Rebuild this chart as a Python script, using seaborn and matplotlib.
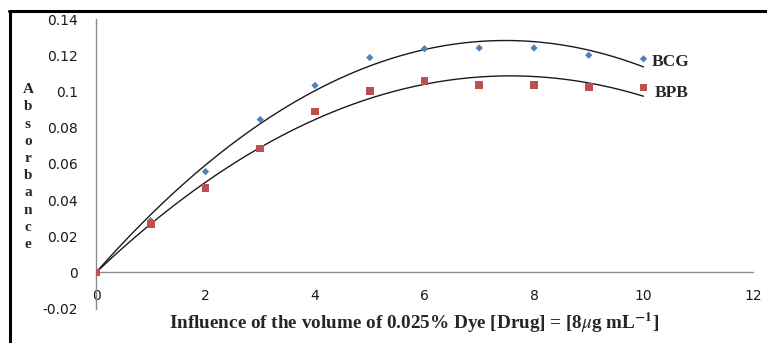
import numpy as np
import pandas as pd
import matplotlib
matplotlib.use("Agg")
import matplotlib.pyplot as plt
import seaborn as sns
from matplotlib.lines import Line2D

volume = [0, 1, 2, 3, 4, 5, 6, 7, 8, 9, 10]
bcg = [0.0, 0.0286, 0.0557, 0.0845, 0.1033, 0.1187, 0.1236, 0.1240, 0.1240, 0.1200, 0.1180]
bpb = [0.0, 0.0268, 0.0465, 0.0685, 0.0889, 0.1004, 0.1057, 0.1035, 0.1035, 0.1024, 0.1022]
series_names = ["BCG", "BPB"]
x_ticks = [0, 2, 4, 6, 8, 10, 12]
y_ticks = [-0.02, 0, 0.02, 0.04, 0.06, 0.08, 0.1, 0.12, 0.14]
y_tick_labels = ["-0.02", "0", "0.02", "0.04", "0.06", "0.08", "0.1", "0.12", "0.14"]

sns.set_theme(style="white")
plt.rcParams['font.family'] = ['DejaVu Sans']
plt.rcParams['mathtext.fontset'] = 'stix'

df = pd.DataFrame({"volume": volume * 2,
                   "absorbance": bcg + bpb,
                   "dye": [series_names[0]] * len(volume) + [series_names[1]] * len(volume)})

fig = plt.figure(figsize=(7.67, 3.43), dpi=100)
ax = fig.add_axes([0.1252, 0.1000, 0.8565, 0.8446])

# polynomial (order 2) trendlines through origin, from the data
xs = np.linspace(0, 10, 200)
for vals in (bcg, bpb):
    x = np.array(volume, float)
    A = np.column_stack([x, x ** 2])
    coef, *_ = np.linalg.lstsq(A, np.array(vals), rcond=None)
    fit = pd.DataFrame({"x": xs, "y": coef[0] * xs + coef[1] * xs ** 2})
    sns.lineplot(data=fit, x="x", y="y", ax=ax, color="#1a1a1a", lw=1.0, zorder=2)

sns.scatterplot(data=df, x="volume", y="absorbance", hue="dye", style="dye",
                palette={"BCG": "#4F81BD", "BPB": "#C0504D"},
                markers={"BCG": "D", "BPB": "s"},
                size="dye", sizes={"BCG": 14, "BPB": 30},
                linewidth=0, ax=ax, legend=False, zorder=3)

ax.set_xlim(0, 12)
ax.set_ylim(-0.02, 0.14)
ax.set_xticks(x_ticks)
ax.set_xticklabels([str(t) for t in x_ticks])
ax.set_yticks(y_ticks)
ax.set_yticklabels(y_tick_labels)
for s in ["top", "right"]:
    ax.spines[s].set_visible(False)
ax.spines["bottom"].set_position(("data", 0))
for s in ["left", "bottom"]:
    ax.spines[s].set_color("#8c8c8c")
    ax.spines[s].set_linewidth(1.0)
ax.tick_params(axis="both", length=0, labelsize=10, colors="#1a1a1a")
ax.tick_params(axis="x", pad=12)
ax.tick_params(axis="y", pad=13)
ax.set_xlabel("")
ax.set_ylabel("")

serif = "Liberation Serif"
ax.text(10.155, 0.116, series_names[0], fontsize=12.5, fontweight="bold",
        family=serif, va="center", ha="left")
ax.text(10.21, 0.0994, series_names[1], fontsize=12.5, fontweight="bold",
        family=serif, va="center", ha="left")

fig.text(28 / 767, 1 - 167 / 343, "\n".join("Absorbance"), fontsize=11,
         fontweight="bold", family=serif, ha="center", va="center",
         linespacing=1.42)
fig.text(414 / 767, 1 - 323 / 343,
         r"Influence of the volume of 0.025% Dye [Drug] = [8$\mathit{\mu}$g mL$^{\mathbf{-1}}$]",
         fontsize=13.8, fontweight="bold", family=serif, ha="center", va="center")

# frame lines (top and left)
fig.add_artist(Line2D([9 / 767, 1], [1 - 11 / 343, 1 - 11 / 343],
                      transform=fig.transFigure, color="black", lw=2.2))
fig.add_artist(Line2D([9.5 / 767, 9.5 / 767], [0, 1 - 11 / 343],
                      transform=fig.transFigure, color="black", lw=2.2))

fig.savefig("out.png", dpi=100, facecolor="white")
